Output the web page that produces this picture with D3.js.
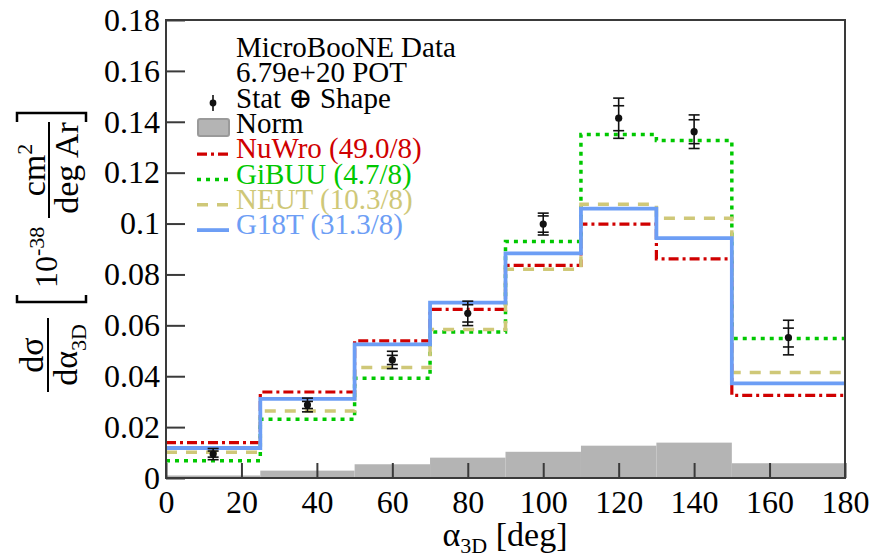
<!DOCTYPE html>
<html>
<head>
<meta charset="utf-8">
<script src="https://cdn.jsdelivr.net/npm/d3@7"></script>
<style>
  body { margin: 0; background: #fff; }
  text { font-family: "Liberation Serif", "DejaVu Serif", serif; }
</style>
</head>
<body>
<svg id="chart" width="893" height="560"></svg>
<script>
// bin edges in alpha_3D [deg]
var binEdges = [0, 25, 50, 70, 90, 110, 130, 150, 180];
var binCenters = [12.5, 37.5, 60, 80, 100, 120, 140, 165];

// MicroBooNE data
var dataVals = [0.0094, 0.0287, 0.0464, 0.0647, 0.0998, 0.1414, 0.1361, 0.0552];
var totalErr = [0.0022, 0.0027, 0.0034, 0.0048, 0.0043, 0.0079, 0.0066, 0.0068];
var statErr  = [0.0012, 0.0014, 0.0018, 0.0034, 0.0032, 0.0049, 0.0047, 0.0037];
var normVals = [0.0010, 0.0029, 0.0054, 0.0080, 0.0103, 0.0127, 0.0139, 0.0058];

// generator predictions
var nuwroVals = [0.0139, 0.0338, 0.0539, 0.0663, 0.0836, 0.0998, 0.0861, 0.0325];
var gibuuVals = [0.0068, 0.0231, 0.0392, 0.0574, 0.0929, 0.1350, 0.1326, 0.0548];
var neutVals  = [0.0101, 0.0263, 0.0434, 0.0584, 0.0820, 0.1076, 0.1021, 0.0415];
var g18tVals  = [0.0118, 0.0311, 0.0525, 0.0689, 0.0883, 0.1059, 0.0943, 0.0372];

var modelNames = ["NuWro (49.0/8)", "GiBUU (4.7/8)", "NEUT (10.3/8)", "G18T (31.3/8)"];

var xTicks = [0, 20, 40, 60, 80, 100, 120, 140, 160, 180];
var yTicks = [0, 0.02, 0.04, 0.06, 0.08, 0.1, 0.12, 0.14, 0.16, 0.18];

var svg = d3.select("#chart");
var padL = 166, padR = 845, padT = 20, padB = 478;

var x = d3.scaleLinear().domain([0, 180]).range([padL, padR]);
var y = d3.scaleLinear().domain([0, 0.18]).range([padB, padT]);

var models = [
  {name: modelNames[0], vals: nuwroVals, color: "#d00000", dash: "10,4,3,4", width: 3.2},
  {name: modelNames[1], vals: gibuuVals, color: "#00c800", dash: "4,5", width: 3.5},
  {name: modelNames[2], vals: neutVals,  color: "#cfc878", dash: "11,9", width: 3.5},
  {name: modelNames[3], vals: g18tVals,  color: "#6d9ef5", dash: null, width: 3.8}
];

// norm uncertainty band
svg.append("g").selectAll("rect")
  .data(normVals)
  .enter().append("rect")
    .attr("x", function(d, i) { return x(binEdges[i]); })
    .attr("width", function(d, i) { return x(binEdges[i + 1]) - x(binEdges[i]); })
    .attr("y", function(d) { return y(d); })
    .attr("height", function(d) { return y(0) - y(d); })
    .attr("fill", "#b4b4b4");

// step histograms
function stepPath(vals) {
  var p = "";
  for (var i = 0; i < vals.length; i++) {
    p += (i == 0 ? "M" : "L") + x(binEdges[i]) + "," + y(vals[i]);
    p += "L" + x(binEdges[i + 1]) + "," + y(vals[i]);
  }
  return p;
}

models.forEach(function(m) {
  svg.append("path")
    .attr("d", stepPath(m.vals))
    .attr("fill", "none")
    .attr("stroke", m.color)
    .attr("stroke-width", m.width)
    .attr("stroke-dasharray", m.dash);
});

// data points with two error bars
var pts = svg.append("g").attr("stroke", "#111").attr("stroke-width", 1.6);
for (var i = 0; i < dataVals.length; i++) {
  var cx = x(binCenters[i]);
  pts.append("line")
    .attr("x1", cx).attr("x2", cx)
    .attr("y1", y(dataVals[i] + totalErr[i])).attr("y2", y(dataVals[i] - totalErr[i]));
  [totalErr[i], statErr[i]].forEach(function(e) {
    [1, -1].forEach(function(s) {
      pts.append("line")
        .attr("x1", cx - 5.5).attr("x2", cx + 5.5)
        .attr("y1", y(dataVals[i] + s * e)).attr("y2", y(dataVals[i] + s * e));
    });
  });
  svg.append("circle").attr("cx", cx).attr("cy", y(dataVals[i])).attr("r", 3.6).attr("fill", "#111");
}

// frame
svg.append("rect")
  .attr("x", padL).attr("y", padT)
  .attr("width", padR - padL).attr("height", padB - padT)
  .attr("fill", "none").attr("stroke", "#3a3a3a").attr("stroke-width", 2);

// axes
var yAxis = d3.axisLeft(y).tickValues(yTicks).tickSize(-19).tickPadding(6)
  .tickFormat(function(d) { return d3.format("")(+d.toFixed(2)); });
var gy = svg.append("g").attr("transform", "translate(" + padL + ",0)").call(yAxis);

var xAxis = d3.axisBottom(x).tickValues(xTicks).tickSize(-15).tickPadding(12);
var gx = svg.append("g").attr("transform", "translate(0," + padB + ")").call(xAxis);

[gx, gy].forEach(function(g) {
  g.select(".domain").remove();
  g.selectAll(".tick line").attr("stroke", "#3a3a3a").attr("stroke-width", 2);
  g.selectAll(".tick text").attr("fill", "#000").style("font-size", "32px")
    .style("font-family", "'Liberation Serif', serif");
});

// x axis title
var xt = svg.append("text")
  .attr("x", 505).attr("y", 546)
  .attr("text-anchor", "middle")
  .style("font-size", "34px");
xt.append("tspan").text("α");
xt.append("tspan").attr("dy", 7).style("font-size", "22px").text("3D");
xt.append("tspan").attr("dy", -7).text(" [deg]");

// y axis title, built rotated
var yl = svg.append("g").attr("transform", "rotate(-90)");
yl.append("text").attr("x", -355).attr("y", 43).attr("text-anchor", "middle")
  .style("font-size", "34px").text("dσ");
var den = yl.append("text").attr("x", -355).attr("y", 77).attr("text-anchor", "middle")
  .style("font-size", "34px");
den.append("tspan").text("dα");
den.append("tspan").attr("dy", 9).style("font-size", "22px").text("3D");
yl.append("line").attr("x1", -392).attr("x2", -318).attr("y1", 48).attr("y2", 48)
  .attr("stroke", "#000").attr("stroke-width", 2);

yl.append("path").attr("d", "M-295,17L-302,17L-302,86L-295,86")
  .attr("fill", "none").attr("stroke", "#000").attr("stroke-width", 2.5);
var ten = yl.append("text").attr("x", -288).attr("y", 57).style("font-size", "32px");
ten.append("tspan").text("10");
ten.append("tspan").attr("dy", -13).style("font-size", "22px").text("-38");

yl.append("text").attr("x", -170).attr("y", 45).attr("text-anchor", "middle")
  .style("font-size", "34px")
  .call(function(t) {
    t.append("tspan").text("cm");
    t.append("tspan").attr("dy", -13).style("font-size", "22px").text("2");
  });
yl.append("line").attr("x1", -218).attr("x2", -122).attr("y1", 49).attr("y2", 49)
  .attr("stroke", "#000").attr("stroke-width", 2);
yl.append("text").attr("x", -168).attr("y", 78).attr("text-anchor", "middle")
  .style("font-size", "34px").text("deg Ar");
yl.append("path").attr("d", "M-122,17L-113,17L-113,86L-122,86")
  .attr("fill", "none").attr("stroke", "#000").attr("stroke-width", 2.5);

// legend
var lg = svg.append("g");
var lx = 236, ly0 = 57, dy = 25.3;
lg.append("text").attr("x", lx).attr("y", ly0).style("font-size", "29px").text("MicroBooNE Data");
lg.append("text").attr("x", lx).attr("y", ly0 + dy).style("font-size", "29px").text("6.79e+20 POT");
lg.append("text").attr("x", lx).attr("y", ly0 + 2 * dy).style("font-size", "29px").text("Stat ⊕ Shape");
lg.append("line").attr("x1", 213).attr("x2", 213).attr("y1", 95).attr("y2", 111)
  .attr("stroke", "#111").attr("stroke-width", 1.6);
lg.append("circle").attr("cx", 213).attr("cy", 103).attr("r", 3.4).attr("fill", "#111");
lg.append("rect").attr("x", 198).attr("y", 119).attr("width", 31).attr("height", 17)
  .attr("rx", 2).attr("fill", "#b4b4b4").attr("stroke", "#9a9a9a").attr("stroke-width", 2);
lg.append("text").attr("x", lx).attr("y", ly0 + 3 * dy).style("font-size", "29px").text("Norm");

models.forEach(function(m, i) {
  var yy = ly0 + (4 + i) * dy;
  lg.append("line").attr("x1", 197).attr("x2", 229).attr("y1", yy - 4).attr("y2", yy - 4)
    .attr("stroke", m.color).attr("stroke-width", m.width).attr("stroke-dasharray", m.dash);
  lg.append("text").attr("x", lx).attr("y", yy).style("font-size", "29px")
    .attr("fill", m.color).text(m.name);
});
</script>
</body>
</html>
